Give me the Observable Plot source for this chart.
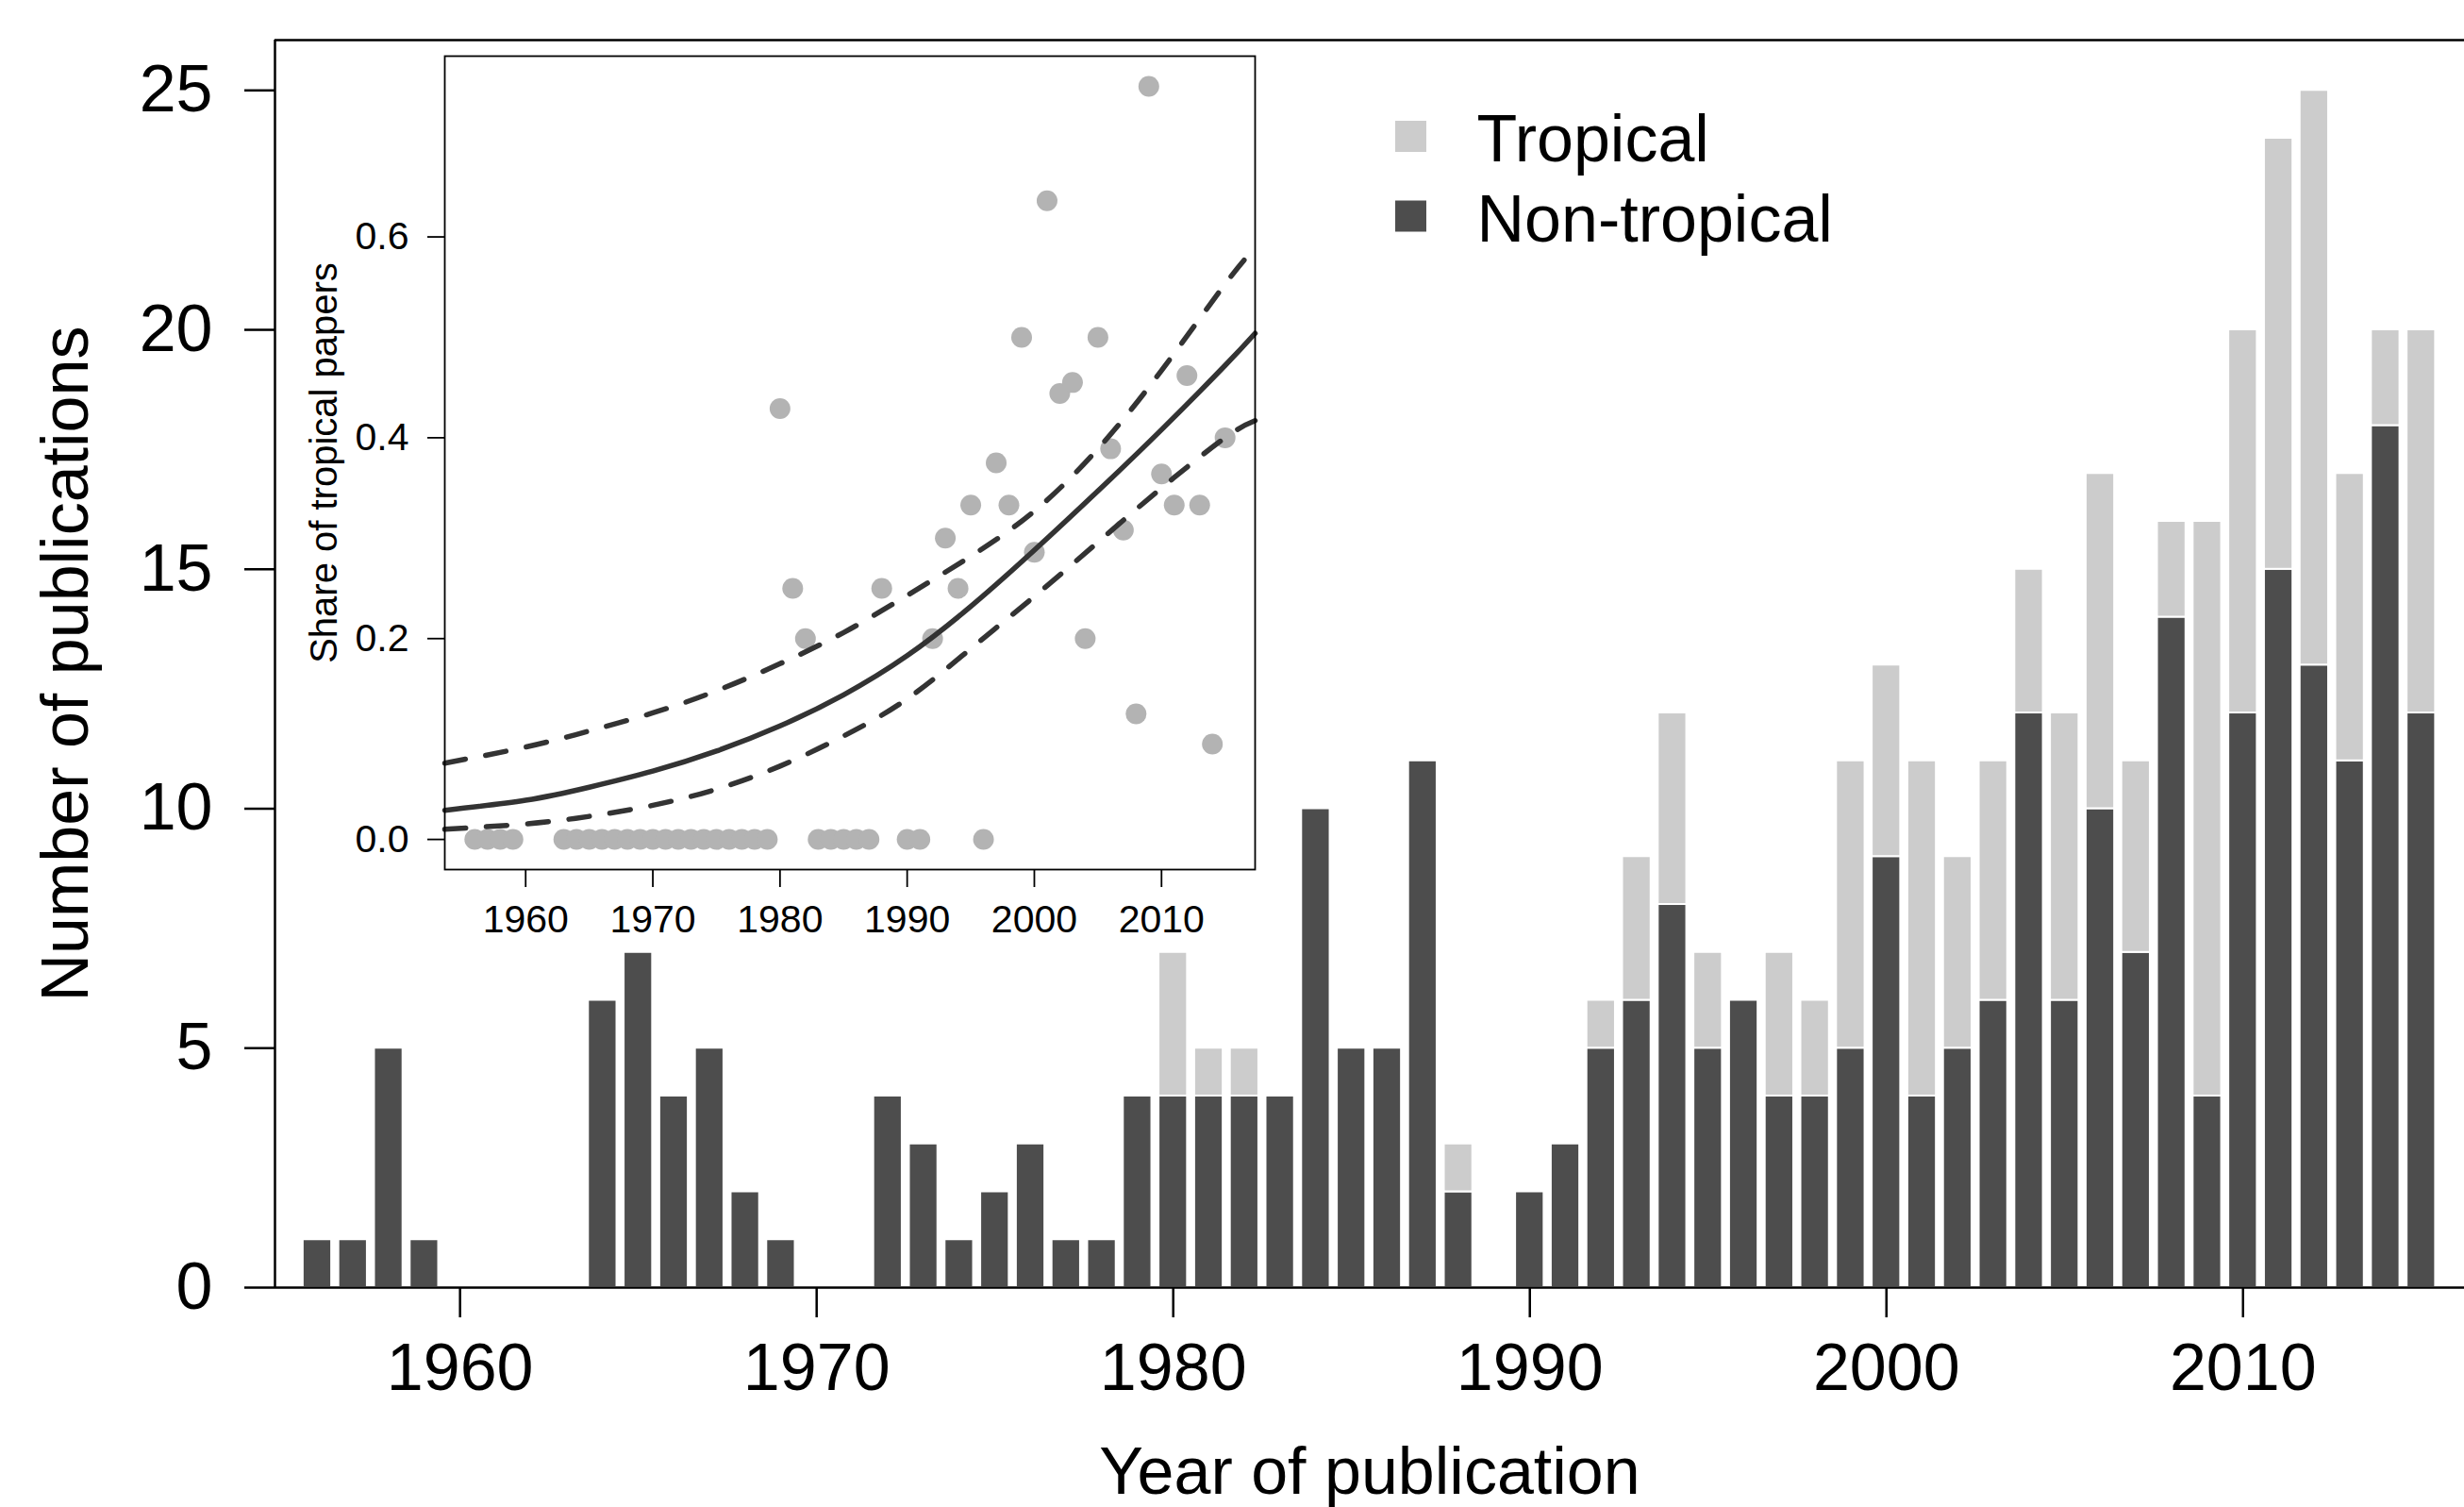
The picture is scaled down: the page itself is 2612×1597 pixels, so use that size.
<!DOCTYPE html>
<html>
<head>
<meta charset="utf-8">
<script src="https://cdn.jsdelivr.net/npm/d3@7"></script>
<script src="https://cdn.jsdelivr.net/npm/@observablehq/plot@0.6"></script>
<style>
  html, body { margin: 0; padding: 0; background: #ffffff; }
  #wrap { position: relative; width: 2612px; height: 1597px; overflow: hidden; background: #ffffff; }
  #main { position: absolute; left: 0; top: 0; width: 2612px; height: 1597px; }
  #inset { position: absolute; left: 300px; top: 40px; width: 1040px; height: 960px; }
</style>
</head>
<body>
<div id="wrap"><div id="main"></div><div id="inset"></div></div>
<script>
// ---------- Main chart data ----------
const years = [1956,1957,1958,1959,1960,1961,1962,1963,1964,1965,1966,1967,1968,1969,1970,1971,1972,1973,1974,1975,
               1976,1977,1978,1979,1980,1981,1982,1983,1984,1985,1986,1987,1988,1989,1990,1991,1992,1993,1994,1995,
               1996,1997,1998,1999,2000,2001,2002,2003,2004,2005,2006,2007,2008,2009,2010,2011,2012,2013,2014,2015];
const nonTropical = [1,1,5,1,0,0,0,0,6,7,4,5,2,1,0,0,4,3,1,2,
                     3,1,1,4,4,4,4,4,10,5,5,11,2,0,2,3,5,6,8,5,
                     6,4,4,5,9,4,5,6,12,6,10,7,14,4,12,15,13,11,18,12];
const tropical =    [0,0,0,0,0,0,0,0,0,0,0,0,0,0,0,0,0,0,0,0,
                     0,0,0,0,3,1,1,0,0,0,0,0,1,0,0,0,1,3,4,2,
                     0,3,2,6,4,7,4,5,3,6,7,4,2,12,8,9,12,6,2,8];
const categories = ["Tropical", "Non-tropical"];
const categoryColors = ["#cccccc", "#4d4d4d"];
const yTicks = [0, 5, 10, 15, 20, 25];
const xTicks = [1960, 1970, 1980, 1990, 2000, 2010];

// ---------- Inset data ----------
const shareYears = [1956,1957,1958,1959,
                    1963,1964,1965,1966,1967,1968,1969,1970,1971,1972,1973,1974,1975,1976,1977,1978,1979,
                    1980,1981,1982,1983,1984,1985,1986,1987,1988,1990,1991,1992,1993,1994,1995,1996,1997,1998,1999,
                    2000,2001,2002,2003,2004,2005,2006,2007,2008,2009,2010,2011,2012,2013,2014,2015];
const shares = [0,0,0,0,
                0,0,0,0,0,0,0,0,0,0,0,0,0,0,0,0,0,
                0.429,0.25,0.2,0,0,0,0,0,0.25,0,0,0.2,0.3,0.25,0.333,0,0.375,0.333,0.5,
                0.286,0.636,0.444,0.455,0.2,0.5,0.389,0.308,0.125,0.75,0.364,0.333,0.462,0.333,0.095,0.4];
const fitYears = [1953.64,1960,1965,1970,1975,1980,1985,1990,1995,2000,2005,2010,2015,2017.36];
const fitMid   = [0.029,0.039,0.052,0.068,0.088,0.113,0.144,0.183,0.232,0.288,0.347,0.408,0.472,0.504];
const fitUpper = [0.076,0.092,0.108,0.126,0.148,0.175,0.206,0.243,0.282,0.327,0.389,0.467,0.553,0.589];
const fitLower = [0.0102,0.0155,0.023,0.034,0.050,0.073,0.103,0.140,0.190,0.242,0.296,0.350,0.400,0.417];
const insetYTicks = [0, 0.2, 0.4, 0.6];
const insetXTicks = [1960, 1970, 1980, 1990, 2000, 2010];

// ---------- Build tables ----------
const rows = [];
years.forEach((yr, i) => {
  if (nonTropical[i] > 0) rows.push({year: yr, type: "Non-tropical", y1: 0, y2: nonTropical[i]});
  if (tropical[i] > 0) rows.push({year: yr, type: "Tropical", y1: nonTropical[i], y2: nonTropical[i] + tropical[i]});
});
const points = shareYears.map((yr, i) => ({year: yr, share: shares[i]}));
const fitRows = (vals) => fitYears.map((yr, i) => ({year: yr, v: vals[i]}));

const font = '"Liberation Sans", Arial, Helvetica, sans-serif';

// ---------- Main plot ----------
const xDom = [1954.81, 2016.21];
const yDom = [0, 26.05];
const main = Plot.plot({
  width: 2612,
  height: 1597,
  marginLeft: 291,
  marginRight: 0,
  marginTop: 42,
  marginBottom: 233,
  style: {fontFamily: font, fontSize: "70px", background: "white", color: "black", maxWidth: "none"},
  x: {domain: xDom},
  y: {domain: yDom},
  color: {domain: categories, range: categoryColors},
  marks: [
    Plot.rectY(rows, {x1: d => d.year - 0.4, x2: d => d.year + 0.4, y1: "y1", y2: "y2",
                      fill: "type", stroke: "white", strokeWidth: 2}),
    Plot.ruleY([0], {stroke: "black", strokeWidth: 2.5}),
    Plot.ruleY([yDom[1]], {stroke: "black", strokeWidth: 2.5}),
    Plot.ruleX([xDom[0]], {stroke: "black", strokeWidth: 2.5}),
    Plot.axisY(yTicks, {tickSize: 32, tickPadding: 34, fontSize: 70, strokeWidth: 2.5,
                        label: null, tickFormat: d => String(d)}),
    Plot.axisX(xTicks, {tickSize: 32, tickPadding: 27, fontSize: 70, strokeWidth: 2.5,
                        label: null, tickFormat: d => String(d)}),
    Plot.text(["Number of publications"], {text: d => d, frameAnchor: "left", rotate: -90, dx: -199,
                                           textAnchor: "middle", lineAnchor: "bottom", fontSize: 70, fill: "black"}),
    Plot.text(["Year of publication"], {text: d => d, frameAnchor: "bottom", dy: 218,
                                        textAnchor: "middle", lineAnchor: "bottom", fontSize: 70, fill: "black"}),
    // legend
    Plot.dot([categories[0]], {frameAnchor: "top-left", dx: 1204, dy: 102, symbol: "square", r: 18.6, fill: d => d}),
    Plot.dot([categories[1]], {frameAnchor: "top-left", dx: 1204, dy: 186.5, symbol: "square", r: 18.6, fill: d => d}),
    Plot.text([categories[0]], {text: d => d, frameAnchor: "top-left", dx: 1274, dy: 128.7,
                                textAnchor: "start", lineAnchor: "bottom", fontSize: 70, fill: "black"}),
    Plot.text([categories[1]], {text: d => d, frameAnchor: "top-left", dx: 1274, dy: 213,
                                textAnchor: "start", lineAnchor: "bottom", fontSize: 70, fill: "black"})
  ]
});
document.getElementById("main").appendChild(main);

// ---------- Inset plot ----------
const ixDom = [1953.64, 2017.36];
const iyDom = [-0.03, 0.78];
const inset = Plot.plot({
  width: 1040,
  height: 960,
  marginLeft: 171,
  marginRight: 10,
  marginTop: 19,
  marginBottom: 79,
  style: {fontFamily: font, fontSize: "40px", background: "transparent", color: "black", maxWidth: "none"},
  x: {domain: ixDom},
  y: {domain: iyDom},
  marks: [
    Plot.dot(points, {x: "year", y: "share", r: 11, fill: "#b3b3b3"}),
    Plot.line(fitRows(fitMid), {x: "year", y: "v", stroke: "#333333", strokeWidth: 5.5, curve: "natural"}),
    Plot.line(fitRows(fitUpper), {x: "year", y: "v", stroke: "#333333", strokeWidth: 5.5, curve: "natural",
                                  strokeDasharray: "22,22", strokeLinecap: "round"}),
    Plot.line(fitRows(fitLower), {x: "year", y: "v", stroke: "#333333", strokeWidth: 5.5, curve: "natural",
                                  strokeDasharray: "22,22", strokeLinecap: "round"}),
    Plot.frame({stroke: "black", strokeWidth: 1.8}),
    Plot.axisY(insetYTicks, {tickSize: 18, tickPadding: 20, fontSize: 41, strokeWidth: 1.8,
                             label: null, tickFormat: d3.format(".1f")}),
    Plot.axisX(insetXTicks, {tickSize: 19, tickPadding: 18, fontSize: 41, strokeWidth: 1.8,
                             label: null, tickFormat: d => String(d)}),
    Plot.text(["Share of tropical papers"], {text: d => d, frameAnchor: "left", rotate: -90, dx: -115,
                                             textAnchor: "middle", lineAnchor: "bottom", fontSize: 40, fill: "black"})
  ]
});
document.getElementById("inset").appendChild(inset);
</script>
</body>
</html>
